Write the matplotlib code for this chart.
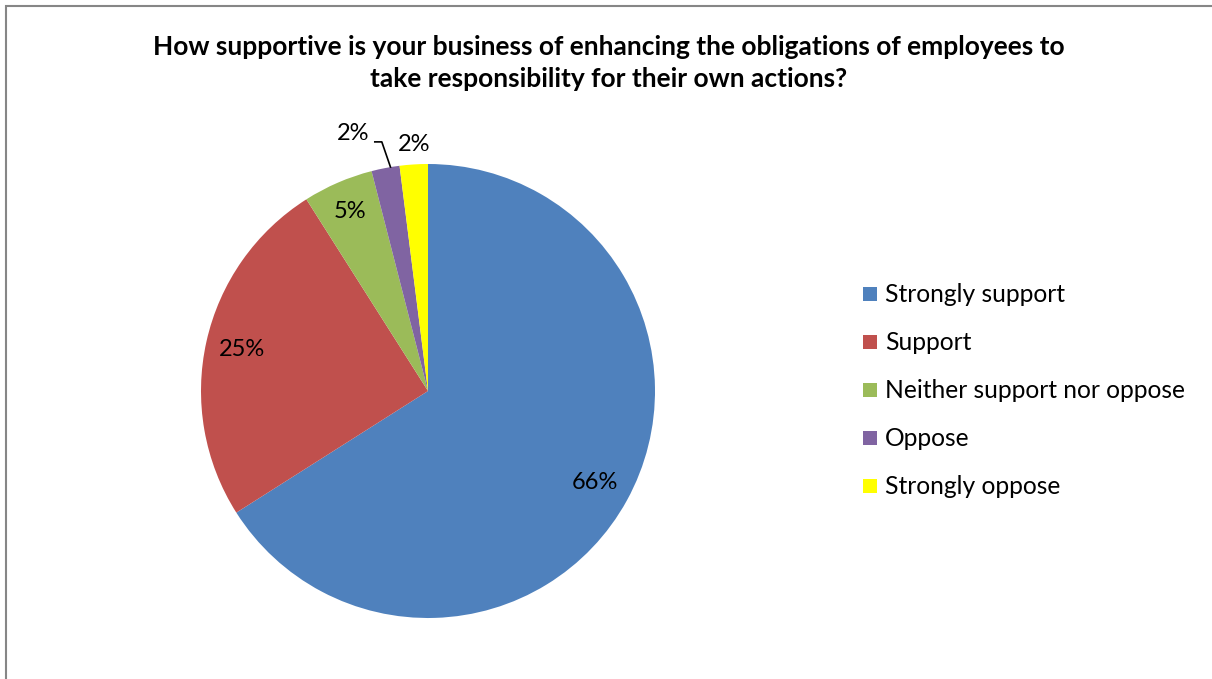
import numpy as np
import matplotlib
matplotlib.use("Agg")
import matplotlib.pyplot as plt
from matplotlib.patches import Rectangle

categories = ["Strongly support", "Support", "Neither support nor oppose", "Oppose", "Strongly oppose"]
values = [66, 25, 5, 2, 2]
colors = ["#4F81BD", "#C0504D", "#9BBB59", "#8064A2", "#FFFF00"]
title = "How supportive is your business of enhancing the obligations of employees to\ntake responsibility for their own actions?"

plt.rcParams['font.family'] = ['Lato', 'DejaVu Sans']

W, H = 1212, 679
fig = plt.figure(figsize=(W / 100, H / 100), dpi=100)
ax = fig.add_axes([0, 0, 1, 1])

cx, cy, r = 428, H - 391, 227
wedges, _ = ax.pie(values, colors=colors, startangle=90, counterclock=False,
                   center=(cx, cy), radius=r, wedgeprops=dict(linewidth=0))

ax.set_xlim(0, W)
ax.set_ylim(0, H)
ax.set_aspect('equal')
ax.axis('off')

# outer chart border (top and left edges visible)
ax.add_patch(Rectangle((5.5, -20), W + 40, H - 6 + 20, fill=False, edgecolor="#868686", linewidth=1.5))

label_dist = [0.84, 0.84, 0.86, 1.18, 1.09]
label_shift = [(0, 0), (0, 0), (0, 0), (-25, -6), (2, 0)]
for i, (w, v) in enumerate(zip(wedges, values)):
    mid = np.deg2rad((w.theta1 + w.theta2) / 2)
    d = label_dist[i]
    tx = cx + d * r * np.cos(mid) + label_shift[i][0]
    ty = cy + d * r * np.sin(mid) + label_shift[i][1]
    if i == 3:
        # leader line from the label to the wedge edge
        ex, ey = cx + r * np.cos(mid), cy + r * np.sin(mid)
        ax.plot([tx + 22, tx + 29, ex + 5], [ty - 8, ty - 8, ey + 1], color="black", lw=1.2)
    ax.text(tx, ty, f"{v}%", ha='center', va='center', fontsize=17, color="black")

ax.text(609, H - 63, title, ha='center', va='center', fontsize=19, fontweight='bold',
        linespacing=1.38)

# legend
ly0, dy = H - 294, 48
for i, (c, lab) in enumerate(zip(colors, categories)):
    y = ly0 - i * dy
    ax.add_patch(Rectangle((863, y - 7), 14, 14, facecolor=c, edgecolor='none'))
    ax.text(885, y, lab, ha='left', va='center', fontsize=17.7, color="black")

fig.savefig("out.png", dpi=100)
